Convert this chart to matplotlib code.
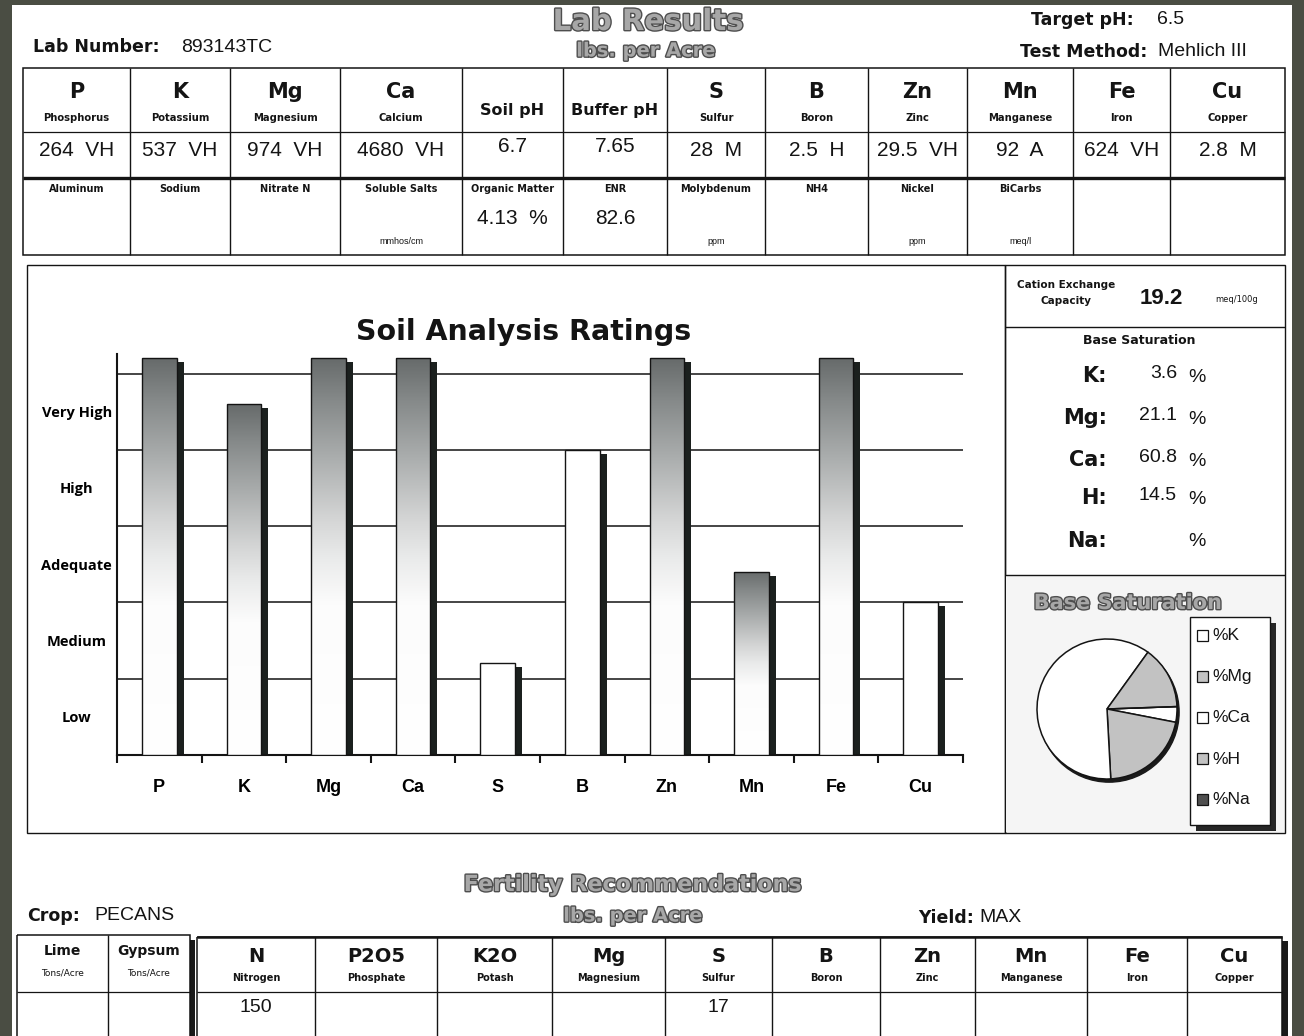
import numpy as np
import matplotlib
matplotlib.use("Agg")
import matplotlib.pyplot as plt
from matplotlib.patches import Rectangle, Circle
from matplotlib.colors import LinearSegmentedColormap
import matplotlib.patheffects as pe

# ---------------- report data ----------------
lab_number = "893143TC"
target_ph = "6.5"
test_method = "Mehlich III"

nutrient_symbols = ["P", "K", "Mg", "Ca", "Soil pH", "Buffer pH", "S", "B", "Zn", "Mn", "Fe", "Cu"]
nutrient_names = ["Phosphorus", "Potassium", "Magnesium", "Calcium", "", "", "Sulfur", "Boron",
                  "Zinc", "Manganese", "Iron", "Copper"]
nutrient_values = ["264", "537", "974", "4680", "6.7", "7.65", "28", "2.5", "29.5", "92", "624", "2.8"]
nutrient_ratings = ["VH", "VH", "VH", "VH", "", "", "M", "H", "VH", "A", "VH", "M"]

extra_labels = ["Aluminum", "Sodium", "Nitrate N", "Soluble Salts", "Organic Matter", "ENR",
                "Molybdenum", "NH4", "Nickel", "BiCarbs", "", ""]
extra_values = ["", "", "", "", "4.13  %", "82.6", "", "", "", "", "", ""]
extra_units = ["", "", "", "mmhos/cm", "", "", "ppm", "", "ppm", "meq/l", "", ""]

rating_elements = ["P", "K", "Mg", "Ca", "S", "B", "Zn", "Mn", "Fe", "Cu"]
rating_scores = [5.2, 4.6, 5.2, 5.2, 1.2, 4.0, 5.2, 2.4, 5.2, 2.0]
rating_shaded = [True, True, True, True, False, False, True, True, True, False]
rating_levels = ["Low", "Medium", "Adequate", "High", "Very High"]

cec_value = "19.2"
base_sat_labels = ["K", "Mg", "Ca", "H", "Na"]
base_sat_values = [3.6, 21.1, 60.8, 14.5, 0.0]
base_sat_text = ["3.6", "21.1", "60.8", "14.5", ""]

crop = "PECANS"
yield_goal = "MAX"
amend_headers = ["Lime", "Gypsum"]
amend_units = ["Tons/Acre", "Tons/Acre"]
rec_symbols = ["N", "P2O5", "K2O", "Mg", "S", "B", "Zn", "Mn", "Fe", "Cu"]
rec_names = ["Nitrogen", "Phosphate", "Potash", "Magnesium", "Sulfur", "Boron", "Zinc",
             "Manganese", "Iron", "Copper"]
rec_values = ["150", "", "", "", "17", "", "", "", "", ""]

# ---------------- layout / style ----------------
W, H, DPI = 1304, 1036, 100
HEAD = "DejaVu Sans"
SANS = "Liberation Sans"
LBL = "Open Sans"
INK = "#141414"

fig = plt.figure(figsize=(W / DPI, H / DPI), dpi=DPI, facecolor="#4a4d43")
page = fig.add_axes([0, 0, 1, 1])
page.set_xlim(0, W)
page.set_ylim(H, 0)
page.axis("off")
page.add_patch(Rectangle((12, 5), 1280, 1040, facecolor="white", edgecolor="none"))


def hline(y, x0, x1, lw=1.0, color=INK):
    page.plot([x0, x1], [y, y], color=color, lw=lw, solid_capstyle="butt")


def vline(x, y0, y1, lw=1.0, color=INK):
    page.plot([x, x], [y0, y1], color=color, lw=lw, solid_capstyle="butt")


def box(x0, y0, x1, y1, lw=1.0):
    page.add_patch(Rectangle((x0, y0), x1 - x0, y1 - y0, fill=False, edgecolor=INK, lw=lw))


def txt(x, y, s, size, weight="normal", family=SANS, ha="center", va="center", color=INK, **kw):
    if s:
        page.text(x, y, s, fontsize=size, fontweight=weight, family=family, ha=ha, va=va,
                  color=color, **kw)


def banner(x, y, s, size):
    page.text(x, y, s, fontsize=size, fontweight="bold", family=HEAD, ha="center", va="center",
              color="#a7a7a7",
              path_effects=[pe.Stroke(linewidth=2.0, foreground="#4e4e4e"), pe.Normal()])


# ---------------- header ----------------
banner(648, 22, "Lab Results", 21)
banner(646, 51, "lbs. per Acre", 14)
txt(33, 47, "Lab Number:", 12.5, "bold", HEAD, ha="left")
txt(181, 47, lab_number, 14, ha="left")
txt(1134, 20, "Target pH:", 12.5, "bold", HEAD, ha="right")
txt(1157, 20, target_ph, 14, ha="left")
txt(1147, 52, "Test Method:", 12.5, "bold", HEAD, ha="right")
txt(1158, 52, test_method, 14, ha="left")

# ---------------- soil test table ----------------
TOP_COLS = [23, 130, 230, 340, 462, 563, 667, 765, 868, 967, 1073, 1170, 1285]
T_TOP, T_HDR, T_MID, T_BOT = 68, 132, 178, 255
box(TOP_COLS[0], T_TOP, TOP_COLS[-1], T_BOT, lw=1.1)
for x in TOP_COLS[1:-1]:
    vline(x, T_TOP, T_BOT)
hline(T_HDR, TOP_COLS[0], TOP_COLS[-1], lw=0.9)
hline(T_MID, TOP_COLS[0], TOP_COLS[-1], lw=2.4)
for i in range(len(nutrient_symbols)):
    cx = (TOP_COLS[i] + TOP_COLS[i + 1]) / 2
    if nutrient_names[i]:
        txt(cx, 92, nutrient_symbols[i], 15, "bold", HEAD)
        txt(cx, 118, nutrient_names[i], 7.2, "bold", HEAD)
        txt(cx, 150, f"{nutrient_values[i]}  {nutrient_ratings[i]}", 15)
    else:
        txt(cx, 110, nutrient_symbols[i], 11.5, "bold", HEAD)
        txt(cx, 147, nutrient_values[i], 15)
    txt(cx, 189, extra_labels[i], 7, "bold", HEAD)
    txt(cx, 218, extra_values[i], 15)
    txt(cx, 241, extra_units[i], 6.5)

# ---------------- rating chart ----------------
box(27, 265, 1005, 833)
page.text(524, 332, "Soil Analysis Ratings", fontsize=20.5, fontweight="heavy", family=HEAD,
          ha="center", va="center", color=INK)

CH_X0, CH_X1, CH_BASE, CH_UNIT, Y_TOP = 117, 963, 755, 76.3, 5.25
n = len(rating_elements)
ax = fig.add_axes([CH_X0 / W, 1 - CH_BASE / H, (CH_X1 - CH_X0) / W, Y_TOP * CH_UNIT / H])
ax.patch.set_visible(False)
for s in ["top", "right"]:
    ax.spines[s].set_visible(False)
for s in ["left", "bottom"]:
    ax.spines[s].set_linewidth(1.5)
    ax.spines[s].set_color(INK)
for lvl in range(1, len(rating_levels) + 1):
    ax.axhline(lvl, color=INK, lw=1.1, zorder=1)

xs = np.arange(n) + 0.5
scores = np.array(rating_scores)
bw = 0.41
px_x = n / (CH_X1 - CH_X0)
ax.bar(xs + 7 * px_x, scores - 4 / CH_UNIT, bw, color="#1b201e", zorder=2)
bars = ax.bar(xs, scores, bw, facecolor="white", edgecolor="none", zorder=3)
bar_cmap = LinearSegmentedColormap.from_list(
    "bar_fade", [(0, "#ffffff"), (0.38, "#fcfcfc"), (0.5, "#e9eaea"), (0.6, "#d3d4d4"),
                 (0.76, "#a8abab"), (0.9, "#848888"), (1.0, "#676b6b")])
grad = np.linspace(0, 1, 256).reshape(-1, 1)
for b, shaded in zip(bars, rating_shaded):
    if shaded:
        im = ax.imshow(grad, cmap=bar_cmap, origin="lower", aspect="auto", interpolation="bilinear",
                       extent=[b.get_x(), b.get_x() + b.get_width(), 0, b.get_height()], zorder=3.5)
        im.set_clip_path(b)
ax.bar(xs, scores, bw, facecolor="none", edgecolor=INK, lw=1.0, zorder=4)
ax.set_xlim(0, n)
ax.set_ylim(0, Y_TOP)

ax.set_xticks(xs, rating_elements)
ax.set_xticks(np.arange(n + 1), minor=True)
ax.tick_params(axis="x", which="major", length=0, pad=17, labelsize=13)
ax.tick_params(axis="x", which="minor", length=6, width=1.5, direction="out", color=INK)
for lab in ax.get_xticklabels():
    lab.set_fontweight("bold")
    lab.set_family(SANS)
ax.set_yticks(np.arange(len(rating_levels)) + 0.5, rating_levels)
ax.tick_params(axis="y", length=0, pad=29)
for lab in ax.get_yticklabels():
    lab.set_ha("center")
    lab.set_fontweight("bold")
    lab.set_family(LBL)
    lab.set_fontsize(10.5)

# ---------------- right panel ----------------
box(1005, 265, 1285, 833)
hline(327, 1005, 1285)
hline(575, 1005, 1285)
txt(1066, 285, "Cation Exchange", 7.5, "bold", HEAD)
txt(1066, 301, "Capacity", 7.5, "bold", HEAD)
txt(1161, 299, cec_value, 16, "bold")
txt(1237, 299, "meq/100g", 6, family=HEAD)
txt(1139, 340, "Base Saturation", 9, "bold", HEAD)
BS_ROWS = [376, 418, 460, 498, 541]
for lab, val, y in zip(base_sat_labels, base_sat_text, BS_ROWS):
    txt(1107, y, lab + ":", 15, "bold", HEAD, ha="right")
    txt(1177, y - 2, val, 14, ha="right")
    txt(1197, y + 1, "%", 14)

page.add_patch(Rectangle((1006, 576), 278, 256, facecolor="#f5f5f5", edgecolor="none"))
banner(1128, 603, "Base Saturation", 15)

slice_colors = ["white", "#c2c2c2", "white", "#c2c2c2", "#4f4f4f"]
PC_X, PC_Y, PR = 1107, 709, 70
half = 82
pax = fig.add_axes([(PC_X - half) / W, 1 - (PC_Y + half) / H, 2 * half / W, 2 * half / H])
pax.set_aspect("equal")
pax.axis("off")
pax.add_patch(Circle((0.03, -0.045), 1.0, color="#1a1a1a", zorder=0))
pax.pie(base_sat_values, colors=slice_colors, startangle=2, counterclock=False, radius=1.0,
        wedgeprops=dict(edgecolor=INK, linewidth=1.1))
pax.set_xlim(-half / PR, half / PR)
pax.set_ylim(-half / PR, half / PR)

# legend box
page.add_patch(Rectangle((1196, 623), 80, 208, facecolor="#262626", edgecolor="none"))
page.add_patch(Rectangle((1190, 617), 80, 208, facecolor="white", edgecolor=INK, lw=1.0))
for i, (lab, col) in enumerate(zip(base_sat_labels, slice_colors)):
    y = 636 + 41 * i
    page.add_patch(Rectangle((1197, y - 6), 11, 11, facecolor=col, edgecolor=INK, lw=0.9))
    txt(1212, y, "%" + lab, 12.5, ha="left")

# ---------------- fertility recommendations ----------------
banner(633, 885, "Fertility Recommendations", 16)
banner(633, 916, "lbs. per Acre", 14)
txt(27, 916, "Crop:", 12.5, "bold", HEAD, ha="left")
txt(94, 916, crop, 14, ha="left")
txt(918, 918, "Yield:", 12.5, "bold", HEAD, ha="left")
txt(979, 918, yield_goal, 14, ha="left")

AM_COLS = [17, 108, 190]
page.add_patch(Rectangle((190, 940), 5, 110, facecolor="#1a1a1a", edgecolor="none"))
box(AM_COLS[0], 935, AM_COLS[-1], 1045, lw=1.1)
vline(AM_COLS[1], 935, 1040)
hline(992, AM_COLS[0], AM_COLS[-1], lw=0.9)
for i in range(len(amend_headers)):
    cx = (AM_COLS[i] + AM_COLS[i + 1]) / 2
    txt(cx, 951, amend_headers[i], 10, "bold", HEAD)
    txt(cx, 973, amend_units[i], 6.5, family=HEAD)

REC_COLS = [197, 315, 437, 552, 665, 772, 880, 975, 1087, 1187, 1282]
page.add_patch(Rectangle((1282, 941), 6, 110, facecolor="#1a1a1a", edgecolor="none"))
box(REC_COLS[0], 937, REC_COLS[-1], 1045, lw=1.1)
hline(937, REC_COLS[0], REC_COLS[-1], lw=1.8)
for x in REC_COLS[1:-1]:
    vline(x, 937, 1040)
hline(992, REC_COLS[0], REC_COLS[-1], lw=0.9)
for i in range(len(rec_symbols)):
    cx = (REC_COLS[i] + REC_COLS[i + 1]) / 2
    txt(cx, 957, rec_symbols[i], 14, "bold", HEAD)
    txt(cx, 978, rec_names[i], 7, "bold", HEAD)
    txt(cx, 1008, rec_values[i], 14)

fig.savefig("out.png", dpi=DPI, facecolor=fig.get_facecolor())
